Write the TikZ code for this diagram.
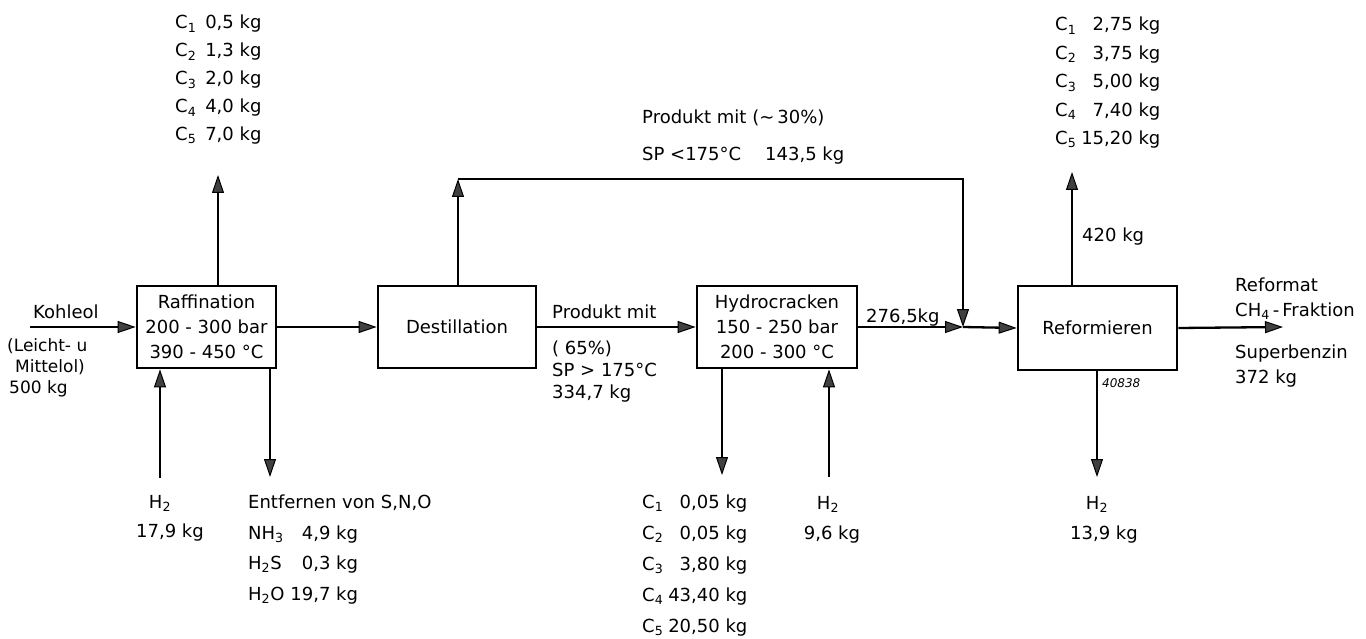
\documentclass[tikz,border=0pt]{standalone}
\usepackage{fontspec}
\setmainfont{DejaVu Sans}
\usetikzlibrary{arrows.meta}
\newcommand{\sub}[1]{\textsubscript{#1}}
\begin{document}
\begin{tikzpicture}[x=1pt,y=-1pt,
  every node/.style={inner sep=0pt, font=\fontsize{18}{22}\selectfont},
  box/.style={draw, line width=2.7pt, minimum height=82pt, align=center,
              font=\fontsize{18}{25}\selectfont},
  arr/.style={line width=2.3pt, -{Triangle[length=18pt,width=12pt,fill=black!75,line width=1pt]}},
  txt/.style={anchor=base west},
  ctr/.style={anchor=base},
]
\useasboundingbox (0,0) rectangle (1366,639);

% process boxes
\node[box, minimum width=139pt] (raf) at (206.5,327) {Raffination\\200 - 300 bar\\390 - 450 °C};
\node[box, minimum width=158pt] (dest) at (457,327) {Destillation};
\node[box, minimum width=160pt] (hyd) at (777,327) {Hydrocracken\\150 - 250 bar\\200 - 300 °C};
\node[box, minimum width=159pt, minimum height=84pt] (ref) at (1097.5,328) {Reformieren};

% free ends
\coordinate (kin) at (30,327);
\coordinate (h2r) at (160,478);
\coordinate (rafo) at (270,477);
\coordinate (rafc) at (218,175);
\coordinate (dc) at (458,179);
\coordinate (jt) at (963,179);
\coordinate (junc) at (963,327);
\coordinate (hydo) at (722,475);
\coordinate (h2h) at (829,477);
\coordinate (refc) at (1072,172);
\coordinate (refo) at (1097,477);
\coordinate (out) at (1283,327);

% connectors
\draw[arr] (kin) -- (raf.west);
\draw[arr] (h2r) -- (h2r |- raf.south);
\draw[arr] (rafo |- raf.south) -- (rafo);
\draw[arr] (rafc |- raf.north) -- (rafc);
\draw[arr] (raf.east) -- (dest.west);
\draw[arr] (dc |- dest.north) -- (dc);
\draw[arr] (dc) -- (jt) -- (junc);
\draw[arr] (dest.east) -- (hyd.west);
\draw[arr] (hydo |- hyd.south) -- (hydo);
\draw[arr] (h2h) -- (h2h |- hyd.south);
\draw[arr] (hyd.east) -- (junc);
\draw[arr] (junc) -- (ref.west);
\draw[arr] (refc |- ref.north) -- (refc);
\draw[arr] (refo |- ref.south) -- (refo);
\draw[arr] (ref.east) -- (out);

% labels left
\node[txt] (kohle) at (33,319) {Kohleol};
\node[txt, font=\fontsize{17}{21}\selectfont] (kohle2) at (7,351)
  {\begin{tabular}[t]{@{}l@{}}(Leicht- u\\\hspace{8pt}Mittelol)\\\hspace{2pt}500 kg\end{tabular}};

% Raffination surroundings
\node[txt] (rafcl) at (175,29)
  {\renewcommand{\arraystretch}{1.27}\begin{tabular}[t]{@{}l@{\hspace{9pt}}r@{}}
   C\sub{1} & 0,5 kg\\ C\sub{2} & 1,3 kg\\ C\sub{3} & 2,0 kg\\ C\sub{4} & 4,0 kg\\ C\sub{5} & 7,0 kg\end{tabular}};
\node[ctr] (h2rl) at (160,508) {H\sub{2}};
\node[ctr] (h2rm) at (170,537) {17,9 kg};
\node[txt] (entf) at (248,508) {Entfernen von S,N,O};
\node[txt] (entl) at (248,539)
  {\renewcommand{\arraystretch}{1.39}\begin{tabular}[t]{@{}l@{\hspace{6pt}}r@{}}
   NH\sub{3} & 4,9 kg\\ H\sub{2}S & 0,3 kg\\ H\sub{2}O & 19,7 kg\end{tabular}};

% Destillation surroundings
\node[txt] (p30a) at (642,124) {Produkt mit\hspace{6pt}(\textasciitilde\,30\%)};
\node[txt] (p30b) at (642,161) {SP <175°C\hspace{24pt}143,5 kg};
\node[txt] (p65a) at (552,319) {Produkt mit};
\node[txt] (p65b) at (552,354)
  {\renewcommand{\arraystretch}{1.0}\begin{tabular}[t]{@{}l@{}}( 65\%)\\SP > 175°C\\334,7 kg\end{tabular}};

% Hydrocracken surroundings
\node[txt] (hydcl) at (642,508)
  {\renewcommand{\arraystretch}{1.41}\begin{tabular}[t]{@{}l@{\hspace{5pt}}r@{}}
   C\sub{1} & 0,05 kg\\ C\sub{2} & 0,05 kg\\ C\sub{3} & 3,80 kg\\ C\sub{4} & 43,40 kg\\ C\sub{5} & 20,50 kg\end{tabular}};
\node[ctr] (h2hl) at (828,509) {H\sub{2}};
\node[ctr] (h2hm) at (832,539) {9,6 kg};
\node[txt] (m276) at (866,323) {276,5kg};

% Reformieren surroundings
\node[txt] (refcl) at (1055,31)
  {\renewcommand{\arraystretch}{1.29}\begin{tabular}[t]{@{}l@{\hspace{5pt}}r@{}}
   C\sub{1} & 2,75 kg\\ C\sub{2} & 3,75 kg\\ C\sub{3} & 5,00 kg\\ C\sub{4} & 7,40 kg\\ C\sub{5} & 15,20 kg\end{tabular}};
\node[txt] (m420) at (1082,242) {420 kg};
\node[txt, font=\fontsize{12}{14}\selectfont\itshape] (num) at (1102,387) {40838};
\node[ctr] (h2fl) at (1097,509) {H\sub{2}};
\node[ctr] (h2fm) at (1104,539) {13,9 kg};
\node[txt] (rfa) at (1235,291)
  {\renewcommand{\arraystretch}{1.14}\begin{tabular}[t]{@{}l@{}}Reformat\\CH\sub{4}\,-\,Fraktion\end{tabular}};
\node[txt] (rfb) at (1235,358)
  {\renewcommand{\arraystretch}{1.14}\begin{tabular}[t]{@{}l@{}}Superbenzin\\372 kg\end{tabular}};
\end{tikzpicture}
\end{document}
